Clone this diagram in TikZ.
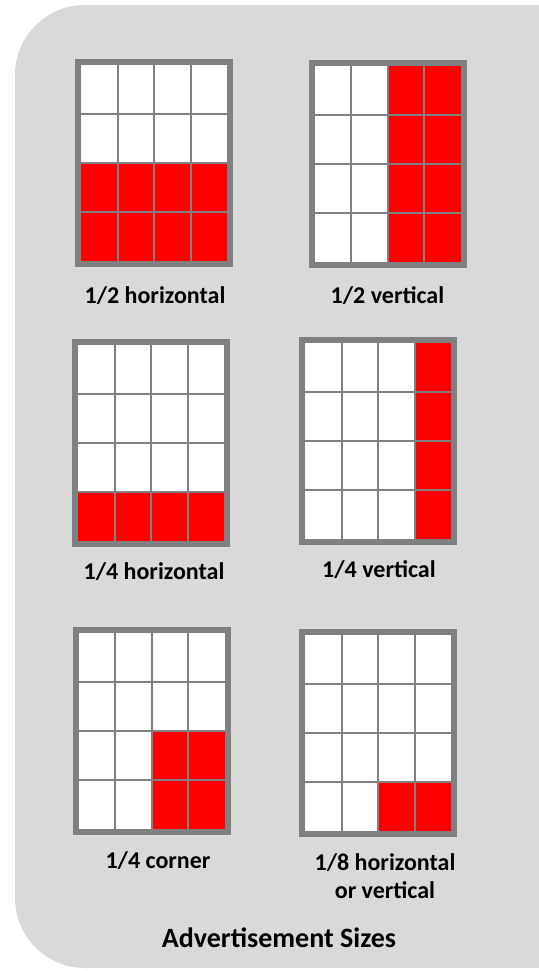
\documentclass[tikz,border=0pt]{standalone}
\usepackage{fontspec}
\setmainfont{Carlito}
\usepackage{xcolor}
\usetikzlibrary{positioning,calc}
\definecolor{panelgray}{HTML}{D9D9D9}
\definecolor{sheetgray}{HTML}{808080}
\definecolor{adred}{HTML}{FF0000}
\tikzset{
  sheet/.style   ={draw=sheetgray, line width=3pt, fill=white, rectangle, minimum width=76pt, minimum height=101pt, inner sep=0pt, outer sep=0pt},
  cellline/.style={draw=sheetgray, line width=1pt},
  redcell/.style ={fill=adred},
  lbl/.style     ={align=center, font=\bfseries\fontsize{12}{14}\selectfont},
  ttl/.style     ={align=center, font=\bfseries\fontsize{14}{16}\selectfont},
}

\begin{document}
\begin{tikzpicture}[x=0.5pt, y=-0.5pt]
  \useasboundingbox (0,0) rectangle (539,971);
  \begin{scope}
    \clip (0,0) rectangle (539,971);
    \fill[panelgray, rounded corners=35pt] (15,5) rectangle (640,968);
  \end{scope}

  % the six page sheets
  \node[sheet] (hh) at (154,163)   {};
  \node[sheet] (hv) at (387.5,163.5) {};
  \node[sheet] (qh) at (151,442.5) {};
  \node[sheet] (qv) at (378,441)   {};
  \node[sheet] (qc) at (151.5,731) {};
  \node[sheet] (eh) at (378,732.5) {};

  % red cells (column/row)
  \foreach \c in {0,...,3} \foreach \r in {2,3}
    \fill[redcell] ($(hh.north west)+(3+\c*36.5,3+\r*49)$) rectangle ++(36.5,49);
  \foreach \c in {2,3} \foreach \r in {0,...,3}
    \fill[redcell] ($(hv.north west)+(3+\c*36.5,3+\r*49)$) rectangle ++(36.5,49);
  \foreach \c in {0,...,3}
    \fill[redcell] ($(qh.north west)+(3+\c*36.5,3+3*49)$) rectangle ++(36.5,49);
  \foreach \r in {0,...,3}
    \fill[redcell] ($(qv.north west)+(3+3*36.5,3+\r*49)$) rectangle ++(36.5,49);
  \foreach \c in {2,3} \foreach \r in {2,3}
    \fill[redcell] ($(qc.north west)+(3+\c*36.5,3+\r*49)$) rectangle ++(36.5,49);
  \foreach \c in {2,3}
    \fill[redcell] ($(eh.north west)+(3+\c*36.5,3+3*49)$) rectangle ++(36.5,49);

  % grid lines
  \foreach \s in {hh,hv,qh,qv,qc,eh}
    \foreach \k in {1,2,3} {
      \draw[cellline] ($(\s.north west)+(3+\k*36.5,3)$) -- ++(0,196);
      \draw[cellline] ($(\s.north west)+(3,3+\k*49)$) -- ++(146,0);
    }

  % labels
  \node[lbl] (lhh) at (155,296)   {1/2 horizontal};
  \node[lbl] (lhv) at (387.5,296) {1/2 vertical};
  \node[lbl] (lqh) at (154,572)   {1/4 horizontal};
  \node[lbl] (lqv) at (379,570)   {1/4 vertical};
  \node[lbl] (lqc) at (158,861)   {1/4 corner};
  \node[lbl] (leh) at (385,876)   {1/8 horizontal\\or vertical};
  \node[ttl] (title) at (279,938) {Advertisement Sizes};
\end{tikzpicture}
\end{document}
